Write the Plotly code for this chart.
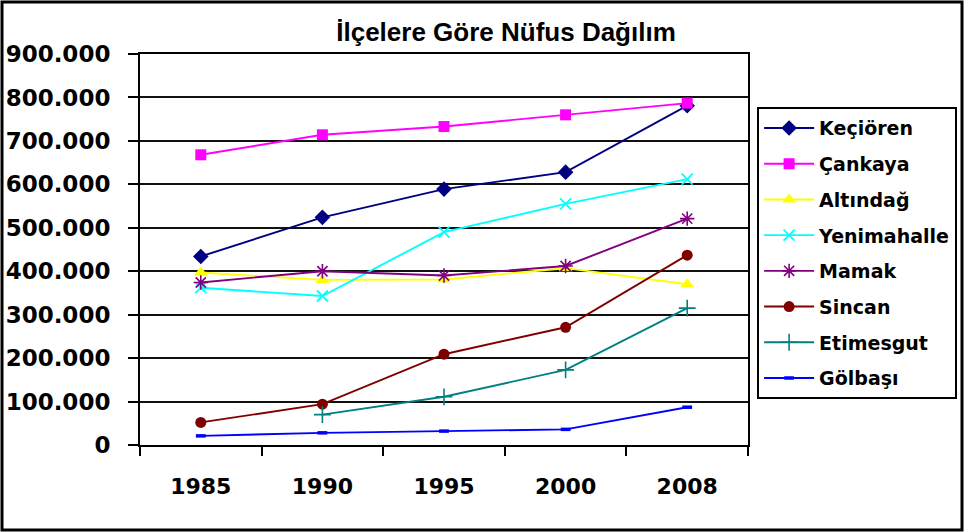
import plotly.graph_objects as go

years = ["1985", "1990", "1995", "2000", "2008"]

kecioren = [434000, 524000, 589000, 628000, 781000]
cankaya = [668000, 714000, 733000, 760000, 787000]
altindag = [397000, 380000, 381000, 407000, 370000]
yenimahalle = [362000, 343000, 490000, 555000, 612000]
mamak = [374000, 400000, 390000, 412000, 521000]
sincan = [52000, 94000, 209000, 271000, 437000]
etimesgut = [None, 70000, 111000, 173000, 315000]
golbasi = [21000, 28000, 32000, 36000, 87000]

series = [
    ("Keçiören", kecioren, "#000080", "diamond", 12, 0),
    ("Çankaya", cankaya, "#FF00FF", "square", 11, 0),
    ("Altındağ", altindag, "#FFFF00", "triangle-up", 12, 0),
    ("Yenimahalle", yenimahalle, "#00FFFF", "x-thin-open", 11, 1.8),
    ("Mamak", mamak, "#800080", "asterisk-open", 12, 1.6),
    ("Sincan", sincan, "#800000", "circle", 11, 0),
    ("Etimesgut", etimesgut, "#008080", "cross-thin-open", 12, 1.6),
    ("Gölbaşı", golbasi, "#0000FF", "line-ew-open", 7, 3.5),
]

x_font = dict(family="DejaVu Sans", size=22, color="black", weight="bold")
y_font = dict(family="DejaVu Sans", size=23, color="black", weight="bold")

fig = go.Figure()
for i, (name, vals, color, sym, size, lw) in enumerate(series):
    fig.add_trace(go.Scatter(
        x=years, y=vals, name=name, mode="lines+markers",
        legendgroup=f"g{i}",
        line=dict(color=color, width=1.9),
        marker=dict(symbol=sym, size=size, color=color,
                    line=dict(color=color, width=lw)),
        connectgaps=False,
    ))

fig.update_layout(
    template="none",
    width=964, height=532,
    margin=dict(l=140, r=216, t=54, b=87, autoexpand=False),
    paper_bgcolor="white", plot_bgcolor="white",
    separators=",.",
    title=dict(text="İlçelere Göre Nüfus Dağılım",
               font=dict(family="Liberation Sans", size=26, color="black", weight="bold"),
               x=0.602, xref="paper", xanchor="center", y=0.94, yanchor="middle"),
    legend=dict(x=1.015, xanchor="left", y=0.864, yanchor="top",
                bgcolor="white", bordercolor="black", borderwidth=2,
                font=dict(family="DejaVu Sans", size=19, color="black", weight="bold"),
                tracegroupgap=8, itemwidth=50),
    showlegend=True,
)

fig.update_xaxes(
    type="category", range=[-0.5, 4.5], automargin=False,
    showline=True, linecolor="black", linewidth=2, mirror=True,
    ticks="outside", tickson="boundaries", ticklen=9, tickwidth=1.5, tickcolor="black",
    tickfont=x_font, ticklabelstandoff=21, showgrid=False,
)
fig.update_yaxes(
    range=[0, 900000], dtick=100000, tickformat=",d", automargin=False,
    showline=True, linecolor="black", linewidth=2, mirror=True,
    ticks="outside", ticklen=10, tickwidth=1.5, tickcolor="black",
    tickfont=y_font, ticklabelstandoff=13,
    showgrid=True, gridcolor="#111", gridwidth=2, zeroline=False,
)

# outer chart border
fig.add_shape(type="rect", xref="paper", yref="paper",
              x0=(2 - 140) / 608, x1=(962 - 140) / 608,
              y0=(445 - 530) / 391, y1=(445 - 2) / 391,
              line=dict(color="black", width=3), layer="below")

fig.write_html("out.html", config={"displayModeBar": False},
               post_script="document.body.style.margin='0px';")
